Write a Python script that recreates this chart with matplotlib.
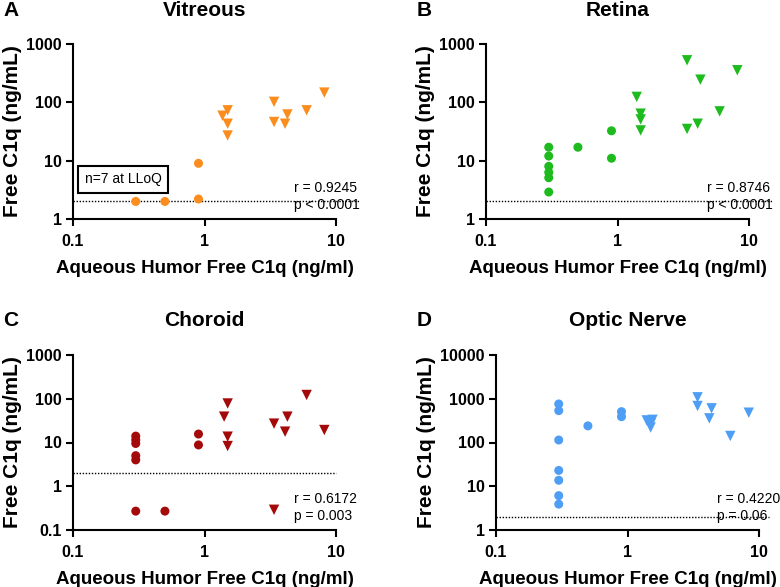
#!/usr/bin/env python
"""Aqueous humor vs tissue free C1q, four log-log scatter panels."""

import matplotlib

matplotlib.use("Agg")
import matplotlib.pyplot as plt

plt.rcParams["font.family"] = ["Liberation Sans", "DejaVu Sans"]

# --- data ---------------------------------------------------------------
vitreous_circ_x = [0.3, 0.5, 0.9, 0.9]
vitreous_circ_y = [2.0, 2.0, 9.0, 2.2]
vitreous_tri_x = [1.37, 1.5, 1.5, 1.5, 3.38, 3.38, 4.1, 4.27, 5.98, 8.15]
vitreous_tri_y = [59, 73, 43, 27, 102, 46, 43, 62, 73, 147]

retina_circ_x = [0.3, 0.3, 0.3, 0.3, 0.3, 0.3, 0.5, 0.9, 0.9]
retina_circ_y = [17, 12, 8, 6.3, 5.1, 2.9, 17, 32.5, 11]
retina_tri_x = [1.4, 1.5, 1.5, 1.5, 3.38, 3.38, 4.07, 4.27, 5.98, 8.15]
retina_tri_y = [124, 64, 51, 33, 526, 35, 43, 245, 70, 355]

choroid_circ_x = [0.3, 0.3, 0.3, 0.3, 0.3, 0.3, 0.5, 0.9, 0.9]
choroid_circ_y = [14, 11.5, 9.5, 5, 4, 0.27, 0.27, 15.6, 8.8]
choroid_tri_x = [1.41, 1.5, 1.5, 1.5, 3.38, 3.38, 4.1, 4.27, 5.98, 8.15]
choroid_tri_y = [39, 78, 13.6, 8.3, 27, 0.29, 17.7, 39, 122, 19.3]

optic_circ_x = [0.3, 0.3, 0.3, 0.3, 0.3, 0.3, 0.3, 0.5, 0.9, 0.9]
optic_circ_y = [760, 535, 114, 23, 13.7, 6.1, 3.9, 240, 507, 389]
optic_tri_x = [1.4, 1.55, 1.5, 1.5, 3.41, 3.41, 4.19, 4.36, 6.05, 8.36]
optic_tri_y = [320, 330, 270, 220, 1079, 683, 356, 604, 141, 480]

LLOQ = 2.0

panel_letters = ["A", "B", "C", "D"]
panel_titles = ["Vitreous", "Retina", "Choroid", "Optic Nerve"]
panel_colors = ["#FB8C1E", "#1DBB1D", "#A50A0A", "#4D9EF4"]
stats_r = ["r = 0.9245", "r = 0.8746", "r = 0.6172", "r = 0.4220"]
stats_p = ["p < 0.0001", "p < 0.0001", "p = 0.003", "p = 0.06"]
y_ticks = [
    [1, 10, 100, 1000],
    [1, 10, 100, 1000],
    [0.1, 1, 10, 100, 1000],
    [1, 10, 100, 1000, 10000],
]
x_ticks = [0.1, 1, 10]


def fmt(v):
    return f"{v:g}"


def main():
    fig = plt.figure(figsize=(7.8, 5.87), dpi=100)
    W, H = 780, 587
    # axes boxes in pixels: left, top, right, bottom
    boxes = [
        (73, 44, 336, 219),
        (486, 44, 749, 219),
        (73, 355, 336, 530),
        (496, 355, 759, 530),
    ]
    data = [
        (vitreous_circ_x, vitreous_circ_y, vitreous_tri_x, vitreous_tri_y),
        (retina_circ_x, retina_circ_y, retina_tri_x, retina_tri_y),
        (choroid_circ_x, choroid_circ_y, choroid_tri_x, choroid_tri_y),
        (optic_circ_x, optic_circ_y, optic_tri_x, optic_tri_y),
    ]
    line_end = [15, 15, 10, 12]

    for i, (l, t, r, b) in enumerate(boxes):
        ax = fig.add_axes([l / W, (H - b) / H, (r - l) / W, (b - t) / H])
        cx, cy, tx, ty = data[i]
        col = panel_colors[i]
        ax.scatter(cx, cy, s=42, marker="o", color=col, edgecolors="none",
                   zorder=3, clip_on=False)
        ax.scatter(tx, ty, s=56, marker="v", color=col, edgecolors="none",
                   zorder=3, clip_on=False)
        ax.plot([0.1, line_end[i]], [LLOQ, LLOQ], color="black", lw=1.0,
                ls=(0, (1, 1.2)), zorder=2, clip_on=False)

        ax.set_xscale("log")
        ax.set_yscale("log")
        ax.set_xlim(0.1, 10)
        yt = y_ticks[i]
        ax.set_ylim(yt[0], yt[-1])
        ax.set_xticks(x_ticks)
        ax.set_xticklabels([fmt(v) for v in x_ticks])
        ax.set_yticks(yt)
        ax.set_yticklabels([fmt(v) for v in yt])
        ax.minorticks_off()
        for lab in ax.get_xticklabels() + ax.get_yticklabels():
            lab.set_fontweight("bold")
            lab.set_fontsize(11.5)
        ax.tick_params(direction="out", length=5, width=1.5, pad=3)
        ax.tick_params(axis="x", pad=6)
        for side in ("top", "right"):
            ax.spines[side].set_visible(False)
        for side in ("left", "bottom"):
            ax.spines[side].set_linewidth(1.5)

        ax.set_xlabel("Aqueous Humor Free C1q (ng/ml)", fontsize=13.5,
                      fontweight="bold", labelpad=8)
        ax.set_ylabel("Free C1q (ng/mL)", fontsize=15, fontweight="bold",
                      labelpad=3)

        ax.text(0.84, 0.175, stats_r[i], transform=ax.transAxes, fontsize=10,
                ha="left", va="center", zorder=4)
        ax.text(0.84, 0.078, stats_p[i], transform=ax.transAxes, fontsize=10,
                ha="left", va="center", zorder=4)

        cx_mid = (l + r) / 2 / W
        title_y = 1 - (t - 34) / H
        fig.text(cx_mid, title_y, panel_titles[i], fontsize=15,
                 fontweight="bold", ha="center", va="center")
        letter_x = 3 / W if l < 200 else 417 / W
        fig.text(letter_x, title_y, panel_letters[i], fontsize=15,
                 fontweight="bold", ha="left", va="center")

        if i == 0:
            ax.text(0.19, 0.226, "n=7 at LLoQ", transform=ax.transAxes,
                    fontsize=10, ha="center", va="center", zorder=4,
                    bbox=dict(boxstyle="square,pad=0.45", fc="white",
                              ec="black", lw=1.5))

    fig.savefig("out.png", dpi=100)
    plt.close(fig)


if __name__ == "__main__":
    main()
